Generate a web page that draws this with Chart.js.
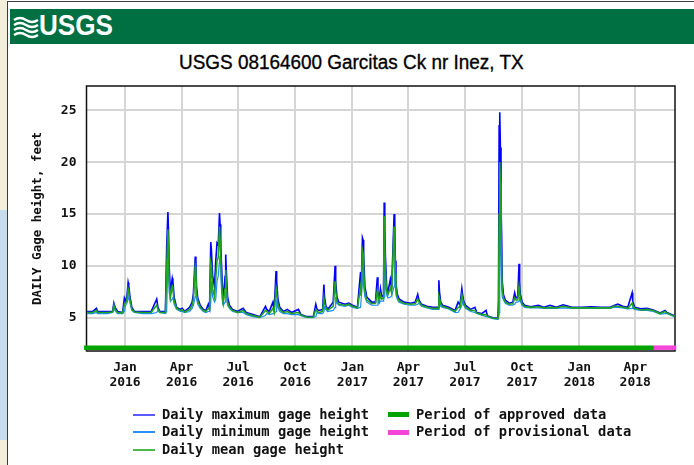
<!DOCTYPE html>
<html>
<head>
<meta charset="utf-8">
<title>USGS 08164600 Garcitas Ck nr Inez, TX</title>
<script src="https://cdn.jsdelivr.net/npm/chart.js@4.4.1/dist/chart.umd.min.js"></script>
<style>
  body { margin: 0; width: 694px; height: 465px; position: relative; overflow: hidden; background: #fff; }
  #map { position: absolute; left: 0; top: 0; width: 7px; height: 465px; background: #f2eedc; }
  #water { position: absolute; left: 0; top: 210px; width: 7px; height: 230px; background: #c8dcee; }
  #page { position: absolute; left: 7px; top: 1px; width: 700px; height: 480px; border-left: 1px solid #3a3a3a; border-top: 1px solid #3a3a3a; }
  #banner { position: absolute; left: 10px; top: 9px; width: 684px; height: 35px; background: #006f41; }
  #banner svg { position: absolute; left: 3px; top: 6px; }
  #logo { position: absolute; left: 29px; top: 0; color: #fff; font: bold 29px "Liberation Sans", Arial, sans-serif;
          transform: scaleX(0.9); transform-origin: left top; }
  #title { position: absolute; left: 179px; top: 50px; white-space: nowrap; color: #000;
           font: 20px "Liberation Sans", Arial, sans-serif; line-height: 24px; -webkit-text-stroke: 0.35px #000;
           transform: scaleX(0.946); transform-origin: left top; }
  #chart { position: absolute; left: 0; top: 0; }
  #legend { position: absolute; left: 133px; top: 405.5px; font: bold 13.75px "DejaVu Sans Mono", monospace; color: #111; }
  .item { position: absolute; white-space: nowrap; height: 17px; line-height: 17px; }
  .item span.key { display: inline-block; vertical-align: middle; margin-right: 7px; }
</style>
</head>
<body>
<div id="map"></div><div id="water"></div>
<div id="page"></div>
<div id="banner">
  <svg width="26" height="24" viewBox="0 0 26 24"><path d="M1 5 q6 -4 12 0 t12 0 M1 10 q6 -4 12 0 t12 0 M1 15 q6 -4 12 0 t12 0 M1 20 q6 -4 12 0 t12 0" stroke="#fff" stroke-width="2.4" fill="none"/></svg>
  <div id="logo">USGS</div>
</div>
<div id="title">USGS 08164600 Garcitas Ck nr Inez, TX</div>
<canvas id="chart" width="694" height="465"></canvas>
<div id="legend"></div>
<script>

// daily values (feet); dates where the trace changes
var dates = [
    '2015-11-01', '2015-11-10', '2015-11-16', '2015-11-18', '2015-11-26', '2015-12-04', '2015-12-12', '2015-12-14', '2015-12-16', '2015-12-20', '2015-12-28', '2015-12-31',
    '2016-01-02', '2016-01-04', '2016-01-06', '2016-01-07', '2016-01-09', '2016-01-12', '2016-01-16', '2016-01-30', '2016-02-12', '2016-02-21', '2016-02-23', '2016-02-26',
    '2016-03-06', '2016-03-08', '2016-03-10', '2016-03-11', '2016-03-12', '2016-03-14', '2016-03-17', '2016-03-18', '2016-03-20', '2016-03-24', '2016-03-30', '2016-04-02', '2016-04-06', '2016-04-14', '2016-04-18', '2016-04-20', '2016-04-23', '2016-04-24', '2016-04-25', '2016-04-27',
    '2016-05-01', '2016-05-06', '2016-05-10', '2016-05-14', '2016-05-16', '2016-05-18', '2016-05-19', '2016-05-21', '2016-05-24', '2016-05-26', '2016-05-28', '2016-05-30', '2016-06-01', '2016-06-02', '2016-06-03', '2016-06-04', '2016-06-06', '2016-06-07', '2016-06-10', '2016-06-11', '2016-06-12', '2016-06-14', '2016-06-17', '2016-06-22', '2016-06-30',
    '2016-07-09', '2016-07-14', '2016-07-25', '2016-08-05', '2016-08-14', '2016-08-16', '2016-08-20', '2016-08-26', '2016-08-28', '2016-08-31', '2016-09-01', '2016-09-03', '2016-09-06', '2016-09-12', '2016-09-18', '2016-09-25', '2016-10-06', '2016-10-10', '2016-10-20', '2016-10-30',
    '2016-11-03', '2016-11-05', '2016-11-08', '2016-11-14', '2016-11-16', '2016-11-17', '2016-11-19', '2016-11-22', '2016-12-01', '2016-12-04', '2016-12-05', '2016-12-07', '2016-12-10', '2016-12-20', '2016-12-26',
    '2017-01-01', '2017-01-09', '2017-01-14', '2017-01-15', '2017-01-17', '2017-01-18', '2017-01-19', '2017-01-21', '2017-01-24',
    '2017-02-01', '2017-02-07', '2017-02-10', '2017-02-11', '2017-02-13', '2017-02-15', '2017-02-17', '2017-02-20', '2017-02-21', '2017-02-22', '2017-02-23', '2017-02-25', '2017-02-27',
    '2017-03-03', '2017-03-05', '2017-03-09', '2017-03-10', '2017-03-11', '2017-03-12', '2017-03-14', '2017-03-17', '2017-03-25',
    '2017-04-05', '2017-04-12', '2017-04-16', '2017-04-18', '2017-04-22', '2017-05-01', '2017-05-10', '2017-05-19', '2017-05-20', '2017-05-21', '2017-05-23', '2017-05-26', '2017-06-05', '2017-06-15', '2017-06-20', '2017-06-23', '2017-06-26', '2017-06-27', '2017-06-29', '2017-07-02', '2017-07-10', '2017-07-17', '2017-07-20', '2017-07-28',
    '2017-08-04', '2017-08-06', '2017-08-15', '2017-08-23', '2017-08-24', '2017-08-25', '2017-08-26', '2017-08-27', '2017-08-28', '2017-08-29', '2017-08-30', '2017-09-01', '2017-09-04', '2017-09-10', '2017-09-16', '2017-09-19', '2017-09-21', '2017-09-24', '2017-09-26', '2017-09-27', '2017-09-28', '2017-10-01', '2017-10-05', '2017-10-15', '2017-10-27',
    '2017-11-05', '2017-11-15', '2017-11-25', '2017-12-06', '2017-12-20', '2018-01-05', '2018-01-20', '2018-02-05', '2018-02-20', '2018-02-25', '2018-03-04', '2018-03-12', '2018-03-20', '2018-03-27', '2018-03-28', '2018-03-31', '2018-04-10', '2018-04-20', '2018-04-30', '2018-05-11', '2018-05-19', '2018-05-22', '2018-06-01', '2018-06-03'
];

var dailyMax = [
    5.6, 5.6, 5.9, 5.6, 5.6, 5.6, 5.6, 6.4, 6.0, 5.6, 5.5, 6.9,
    6.6, 7.0, 8.4, 8.1, 7.0, 6.0, 5.6, 5.6, 5.6, 6.8, 6.0, 5.6,
    5.6, 11.8, 15.2, 13.3, 10.0, 7.5, 8.8, 8.5, 7.0, 6.0, 5.8, 5.9, 5.6, 6.0, 6.5, 7.3, 10.9, 10.5, 8.0, 6.9,
    6.2, 5.8, 5.7, 6.3, 5.9, 12.3, 11.5, 9.0, 8.0, 10.5, 12.2, 12.0, 15.1, 14.0, 12.5, 10.5, 7.5, 6.7, 9.0, 11.1, 9.5, 7.0, 6.2, 5.8, 5.6,
    5.9, 5.5, 5.3, 5.1, 6.1, 5.8, 5.6, 6.5, 5.7, 9.5, 8.5, 6.8, 6.0, 5.6, 5.8, 5.5, 5.8, 5.3, 5.1, 5.1,
    6.3, 5.8, 5.7, 5.8, 8.2, 7.0, 6.2, 5.8, 6.5, 10.0, 8.5, 7.0, 6.5, 6.3, 6.4,
    6.2, 6.0, 9.4, 7.5, 12.7, 12.5, 11.0, 8.0, 7.0,
    6.5, 6.5, 8.9, 7.5, 6.8, 7.8, 7.0, 7.2, 16.1, 14.0, 10.9, 8.0, 7.5,
    8.7, 7.8, 15.0, 14.1, 10.5, 8.3, 7.3, 6.8, 6.5,
    6.4, 6.5, 7.25, 6.7, 6.3, 6.1, 6.0, 6.0, 8.6, 7.5, 6.5, 6.2, 6.0, 5.7, 6.5, 6.2, 7.8, 7.3, 6.6, 6.2, 5.8, 6.0, 5.5, 5.4,
    5.7, 5.2, 5.0, 4.95, 6.7, 23.5, 24.8, 21.4, 16.0, 13.1, 8.5, 7.2, 6.7, 6.4, 6.5, 7.4, 6.9, 7.0, 10.2, 8.5, 7.3, 6.5, 6.2, 6.05, 6.2,
    6.0, 6.2, 6.0, 6.25, 6.0, 6.0, 6.05, 6.0, 6.0, 6.15, 6.3, 6.1, 6.0, 7.4, 6.6, 6.0, 5.85, 5.9, 5.75, 5.45, 5.7, 5.5, 5.25, 5.2
];

var dailyMin = [
    5.4, 5.4, 5.5, 5.4, 5.4, 5.4, 5.5, 5.8, 5.7, 5.4, 5.4, 5.6,
    6.2, 6.4, 6.8, 7.2, 6.4, 5.7, 5.5, 5.4, 5.4, 5.5, 5.7, 5.5,
    5.4, 5.6, 10.5, 9.5, 7.5, 6.6, 6.8, 7.0, 6.3, 5.8, 5.6, 5.6, 5.5, 5.6, 5.9, 6.2, 7.0, 8.0, 6.9, 6.3,
    5.9, 5.6, 5.5, 5.6, 5.6, 6.5, 8.5, 7.0, 6.5, 6.8, 8.5, 9.0, 10.5, 11.0, 9.5, 8.0, 6.4, 6.2, 6.5, 7.5, 7.5, 6.2, 5.9, 5.6, 5.5,
    5.5, 5.3, 5.1, 5.0, 5.2, 5.4, 5.3, 5.4, 5.4, 5.6, 6.5, 6.0, 5.6, 5.4, 5.4, 5.3, 5.3, 5.2, 5.0, 5.0,
    5.1, 5.5, 5.4, 5.4, 5.6, 6.0, 5.8, 5.6, 5.7, 6.0, 7.0, 6.4, 6.2, 6.1, 6.2,
    6.0, 5.9, 6.0, 6.8, 8.5, 9.5, 8.0, 7.0, 6.5,
    6.2, 6.2, 6.2, 6.8, 6.4, 6.6, 6.6, 6.6, 7.0, 10.5, 8.5, 7.2, 6.9,
    7.0, 7.1, 8.0, 10.5, 8.3, 7.2, 6.8, 6.5, 6.3,
    6.2, 6.2, 6.3, 6.4, 6.1, 5.95, 5.8, 5.8, 5.9, 6.5, 6.1, 6.0, 5.85, 5.5, 5.5, 5.8, 6.2, 6.6, 6.2, 5.9, 5.6, 5.5, 5.4, 5.25,
    5.1, 5.1, 4.9, 4.85, 4.9, 5.5, 17.0, 16.0, 11.0, 8.0, 7.0, 6.7, 6.4, 6.2, 6.2, 6.3, 6.5, 6.5, 6.6, 7.0, 6.6, 6.2, 6.0, 5.95, 5.95,
    5.9, 5.9, 5.9, 5.95, 5.9, 5.9, 5.9, 5.9, 5.9, 6.0, 6.0, 5.95, 5.85, 5.9, 6.0, 5.8, 5.7, 5.7, 5.6, 5.35, 5.4, 5.4, 5.15, 5.1
];

var dailyMean = [
    5.5, 5.5, 5.7, 5.5, 5.5, 5.5, 5.55, 6.2, 5.8, 5.5, 5.45, 6.3,
    6.4, 6.7, 7.8, 7.6, 6.7, 5.8, 5.55, 5.5, 5.5, 6.2, 5.8, 5.5,
    5.5, 9.5, 13.5, 11.5, 8.5, 7.0, 8.0, 7.8, 6.6, 5.9, 5.7, 5.75, 5.55, 5.8, 6.2, 6.8, 9.9, 9.5, 7.4, 6.6,
    6.0, 5.7, 5.6, 5.9, 5.8, 10.3, 10.0, 7.8, 7.0, 8.8, 10.5, 10.8, 13.8, 12.5, 10.8, 9.0, 6.8, 6.4, 7.8, 9.6, 8.3, 6.5, 6.0, 5.7, 5.5,
    5.7, 5.4, 5.2, 5.05, 5.7, 5.6, 5.4, 5.9, 5.5, 7.8, 7.4, 6.3, 5.8, 5.5, 5.6, 5.4, 5.5, 5.25, 5.05, 5.05,
    5.8, 5.6, 5.5, 5.6, 6.9, 6.4, 6.0, 5.7, 6.1, 8.5, 7.6, 6.6, 6.3, 6.2, 6.3,
    6.1, 5.95, 8.0, 7.1, 11.5, 11.2, 9.5, 7.5, 6.7,
    6.35, 6.4, 7.6, 7.1, 6.6, 7.2, 6.8, 6.9, 14.8, 12.0, 9.5, 7.6, 7.2,
    7.9, 7.4, 13.8, 12.5, 9.2, 7.7, 7.0, 6.6, 6.4,
    6.3, 6.35, 6.8, 6.55, 6.2, 6.0, 5.9, 5.9, 7.1, 6.9, 6.3, 6.1, 5.9, 5.6, 6.0, 6.0, 7.2, 6.9, 6.4, 6.0, 5.7, 5.7, 5.45, 5.3,
    5.3, 5.15, 4.95, 4.9, 5.2, 15.0, 20.0, 18.0, 13.0, 10.0, 7.7, 6.9, 6.5, 6.3, 6.35, 6.9, 6.7, 6.7, 8.0, 7.5, 6.9, 6.3, 6.1, 6.0, 6.05,
    5.95, 6.0, 5.95, 6.1, 5.95, 5.95, 5.95, 5.95, 5.95, 6.1, 6.1, 6.0, 5.9, 6.4, 6.2, 5.9, 5.75, 5.8, 5.7, 5.4, 5.6, 5.45, 5.2, 5.15
];

var approvedPeriod = ['2015-10-27', '2018-05-01'];
var provisionalPeriod = ['2018-05-01', '2018-06-06'];
var periodLevel = 2.11;

var xRange = ['2015-10-31', '2018-06-04'];
var tickDates = ['2016-01-01', '2016-04-01', '2016-07-01', '2016-10-01', '2017-01-01', '2017-04-01', '2017-07-01', '2017-10-01', '2018-01-01', '2018-04-01'];
var tickLabels = [['Jan', '2016'], ['Apr', '2016'], ['Jul', '2016'], ['Oct', '2016'], ['Jan', '2017'], ['Apr', '2017'], ['Jul', '2017'], ['Oct', '2017'], ['Jan', '2018'], ['Apr', '2018']];
var yTicks = [5, 10, 15, 20, 25];
var yRange = [1.79, 27.34];


function dayOf(s) {
    return (Date.parse(s) - Date.parse('2016-01-01')) / 864e5;
}

function series(values) {
    return dates.map(function (d, i) {
        return {x: dayOf(d), y: values[i]};
    });
}

function period(p) {
    return [{x: dayOf(p[0]), y: periodLevel}, {x: dayOf(p[1]), y: periodLevel}];
}

var monoFont = 'DejaVu Sans Mono';

var frame = {
    id: 'frame',
    beforeDatasetsDraw: function (chart) {
        var a = chart.chartArea, c = chart.ctx;
        c.save();
        c.strokeStyle = '#111';
        c.lineWidth = 1.5;
        c.strokeRect(a.left, a.top, a.right - a.left, a.bottom - a.top);
        c.restore();
    }
};

var datasets = [
    {label: 'Daily mean gage height', data: series(dailyMean), borderColor: '#1fa31f', borderWidth: 1.6, order: 0},
    {label: 'Daily minimum gage height', data: series(dailyMin), borderColor: '#1e8cff', borderWidth: 1.2, order: 1},
    {label: 'Daily maximum gage height', data: series(dailyMax), borderColor: '#0000ff', borderWidth: 1.6, order: 2},
    {label: 'Period of approved data', data: period(approvedPeriod), borderColor: '#00a300', borderWidth: 4.5, order: 3, clip: false},
    {label: 'Period of provisional data', data: period(provisionalPeriod), borderColor: '#f545d8', borderWidth: 4.5, order: 3, clip: false}
];

datasets.forEach(function (d) {
    d.pointRadius = 0;
    d.tension = 0;
    d.fill = false;
    d.borderCapStyle = 'butt';
});

var chart = new Chart(document.getElementById('chart'), {
    type: 'line',
    data: {datasets: datasets},
    options: {
        responsive: false,
        animation: false,
        layout: {padding: {left: 0, top: 86, right: 19, bottom: 74}},
        plugins: {legend: {display: false}, tooltip: {enabled: false}},
        scales: {
            x: {
                type: 'linear',
                min: dayOf(xRange[0]),
                max: dayOf(xRange[1]),
                afterBuildTicks: function (s) {
                    s.ticks = tickDates.map(function (d) { return {value: dayOf(d)}; });
                },
                afterFit: function (s) { s.height = 40; },
                grid: {color: '#d5d5d5', lineWidth: 2, drawTicks: false},
                border: {display: false},
                ticks: {
                    autoSkip: false, maxRotation: 0, padding: 9.5, color: '#111',
                    font: {family: monoFont, size: 13, weight: 'bold', lineHeight: '14.5px'},
                    callback: function (v, i) { return tickLabels[i]; }
                }
            },
            y: {
                min: yRange[0],
                max: yRange[1],
                afterBuildTicks: function (s) {
                    s.ticks = yTicks.map(function (v) { return {value: v}; });
                },
                afterFit: function (s) { s.width = 86.5; },
                grid: {color: '#d5d5d5', lineWidth: 2, drawTicks: false},
                border: {display: false},
                ticks: {padding: 10, color: '#111', font: {family: monoFont, size: 13, weight: 'bold'}},
                title: {
                    display: true, text: 'DAILY Gage height, feet', color: '#111',
                    padding: {top: 30, bottom: 0},
                    font: {family: monoFont, size: 12.5, weight: 'bold'}
                }
            }
        }
    },
    plugins: [frame]
});

// two-column legend like the USGS graph
var legendOrder = [
    {i: 2, col: 0, row: 0, h: 2, c: '#5a5aff'}, {i: 1, col: 0, row: 1, h: 2, c: '#2a90ff'}, {i: 0, col: 0, row: 2, h: 2, c: '#4cb84c'},
    {i: 3, col: 1, row: 0, h: 5}, {i: 4, col: 1, row: 1, h: 5}
];
var legend = document.getElementById('legend');
legendOrder.forEach(function (o) {
    var ds = datasets[o.i];
    var item = document.createElement('div');
    item.className = 'item';
    item.style.left = (o.col * 255) + 'px';
    item.style.top = (o.row * 17.5) + 'px';
    var key = document.createElement('span');
    key.className = 'key';
    key.style.width = (o.col ? 21 : 22) + 'px';
    key.style.height = o.h + 'px';
    key.style.background = o.c || ds.borderColor;
    item.appendChild(key);
    item.appendChild(document.createTextNode(ds.label));
    legend.appendChild(item);
});

</script>
</body>
</html>
